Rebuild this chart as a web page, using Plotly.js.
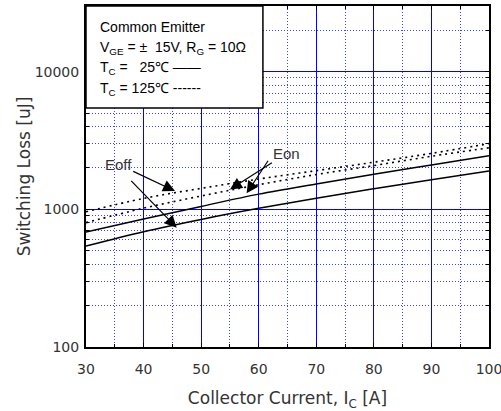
<!DOCTYPE html>
<html>
<head>
<meta charset="utf-8">
<script src="https://cdn.plot.ly/plotly-3.0.1.min.js"></script>
<style>html,body{margin:0;padding:0;background:#fff;}#chart{width:501px;height:411px;}</style>
</head>
<body>
<div id="chart"></div>
<script>
// Data
const current = [30, 40, 50, 60, 70, 80, 90, 100];
const eoff25  = [541, 688, 845, 1017, 1204, 1412, 1643, 1897];
const eon25   = [684, 850, 1050, 1290, 1530, 1800, 2100, 2450];
const eoff125 = [960, 1200, 1420, 1660, 1910, 2200, 2550, 3000];
const eon125  = [800, 1020, 1250, 1510, 1790, 2080, 2430, 2800];
const xTicks = [30, 40, 50, 60, 70, 80, 90, 100];
const xMinor = [35, 45, 55, 65, 75, 85, 95];
const yTicks = [100, 1000, 10000];
const yMinor = [200, 300, 400, 500, 600, 700, 800, 900, 2000, 3000, 4000, 5000, 6000, 7000, 8000, 9000, 20000];
const legendLines = [
  'Common Emitter',
  'V<sub>GE</sub> = ±  15V, R<sub>G</sub> = 10Ω',
  'T<sub>C</sub> =   25℃ ——',
  'T<sub>C</sub> = 125℃ ------'
];

const solid = {color: '#000', width: 1.5, shape: 'spline'};
const dotted = {color: '#000', width: 1.6, dash: '2px,4px', shape: 'spline'};
const traces = [
  {x: current, y: eoff25, mode: 'lines', line: solid, name: 'Eoff 25'},
  {x: current, y: eon25, mode: 'lines', line: solid, name: 'Eon 25'},
  {x: current, y: eoff125, mode: 'lines', line: dotted, name: 'Eoff 125'},
  {x: current, y: eon125, mode: 'lines', line: dotted, name: 'Eon 125'}
];

const arrowStyle = {showarrow: true, arrowhead: 2, arrowsize: 2, arrowwidth: 1.2, arrowcolor: '#000', xref: 'x', yref: 'y', axref: 'x', ayref: 'y', font: {family: 'Liberation Sans, Arial, sans-serif', size: 15, color: '#333'}};
// log-axis annotation positions are in log10 units
const annotations = [
  Object.assign({}, arrowStyle, {text: 'Eoff', ax: 35.6, ay: 3.327, x: 45.46, y: 3.133}),
  Object.assign({}, arrowStyle, {text: '', ax: 37.6, ay: 3.218, x: 45.75, y: 2.867}),
  Object.assign({}, arrowStyle, {text: 'Eon', ax: 64.9, ay: 3.407, x: 55.0, y: 3.145}),
  Object.assign({}, arrowStyle, {text: '', ax: 61.8, ay: 3.364, x: 57.9, y: 3.116})
];
const legendY = [0.938, 0.878, 0.817, 0.756];
legendLines.forEach((t, i) => annotations.push({
  text: t, xref: 'paper', yref: 'paper', x: 0.03, y: legendY[i], xanchor: 'left', yanchor: 'middle',
  showarrow: false, font: {family: 'Liberation Sans, Arial, sans-serif', size: 14, color: '#000'}
}));

const tickFont = {family: 'DejaVu Sans, sans-serif', size: 14, color: '#333'};
const titleFont = {family: 'DejaVu Sans, sans-serif', size: 17, color: '#333'};
const minorGrid = {showgrid: true, gridcolor: '#4040ff', griddash: '1px,2px', gridwidth: 1, ticks: 'inside', ticklen: 3, tickcolor: '#000'};
const layout = {
  width: 501, height: 411,
  margin: {l: 86, r: 12, t: 6, b: 64},
  paper_bgcolor: '#fff', plot_bgcolor: '#fff',
  showlegend: false,
  xaxis: {
    range: [30, 100], tickmode: 'array', tickvals: xTicks, ticktext: xTicks.map(String),
    showgrid: true, gridcolor: '#0000ff', gridwidth: 1,
    showline: true, linecolor: '#000', linewidth: 2, mirror: 'ticks',
    ticks: 'inside', ticklen: 4, tickcolor: '#000', tickfont: tickFont,
    ticklabelstandoff: 8, ticklabeloverflow: 'allow', zeroline: false,
    minor: Object.assign({tickmode: 'array', tickvals: xMinor}, minorGrid),
    title: {text: 'Collector Current, I<sub>C</sub> [A]', font: titleFont, standoff: 17},
    automargin: false
  },
  yaxis: {
    type: 'log', range: [2, Math.log10(30000)], tickmode: 'array', tickvals: yTicks, ticktext: yTicks.map(String),
    showgrid: true, gridcolor: '#0000ff', gridwidth: 1,
    showline: true, linecolor: '#000', linewidth: 2, mirror: 'ticks',
    ticks: 'inside', ticklen: 4, tickcolor: '#000', tickfont: tickFont,
    ticklabelstandoff: 2, ticklabeloverflow: 'allow', zeroline: false,
    minor: Object.assign({tickmode: 'array', tickvals: yMinor}, minorGrid),
    title: {text: 'Switching Loss [uJ]', font: titleFont, standoff: 0},
    automargin: false
  },
  shapes: [
    {type: 'rect', xref: 'paper', yref: 'paper', x0: 0, x1: 0.439, y0: 0.701, y1: 1, fillcolor: '#fff', line: {color: '#000', width: 1.5}, layer: 'above'}
  ],
  annotations: annotations
};

Plotly.newPlot('chart', traces, layout, {staticPlot: true, displayModeBar: false});
</script>
</body>
</html>
